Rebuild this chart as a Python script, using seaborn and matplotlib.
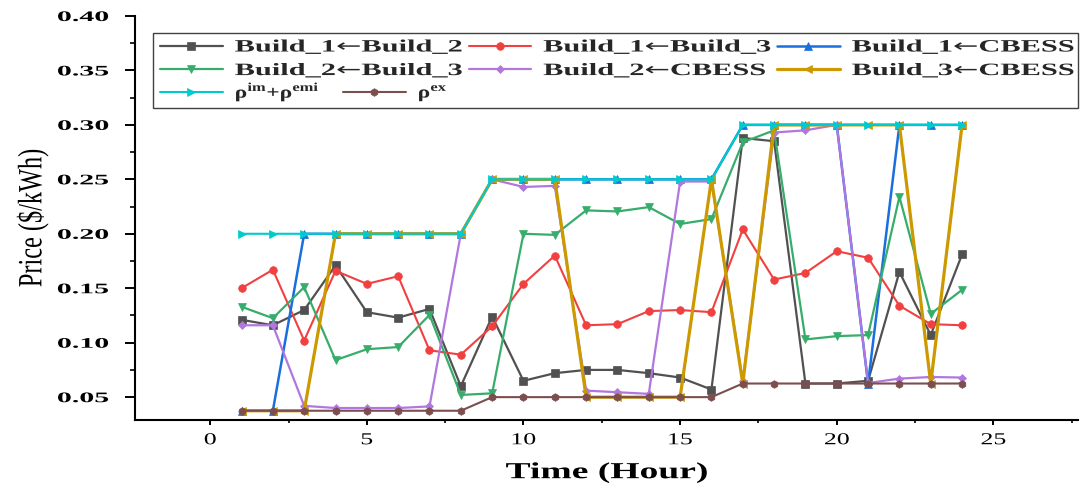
import numpy as np
import pandas as pd
import matplotlib
matplotlib.use("Agg")
import matplotlib.pyplot as plt
import seaborn as sns
from matplotlib.patheffects import AbstractPathEffect
from matplotlib.transforms import Affine2D
from matplotlib.ticker import MultipleLocator, FormatStrFormatter
from matplotlib.font_manager import FontProperties
from matplotlib.patches import Rectangle

# ---------------- data ----------------
hours = [1, 2, 3, 4, 5, 6, 7, 8, 9, 10, 11, 12, 13, 14, 15, 16, 17, 18, 19, 20, 21, 22, 23, 24]

b1_from_b2 = [0.121, 0.116, 0.130, 0.171, 0.128, 0.123, 0.131, 0.060, 0.124, 0.065, 0.072, 0.075,
              0.075, 0.072, 0.068, 0.057, 0.288, 0.285, 0.0625, 0.0625, 0.065, 0.165, 0.107, 0.181]
b1_from_b3 = [0.150, 0.167, 0.102, 0.166, 0.154, 0.161, 0.093, 0.089, 0.115, 0.154, 0.180, 0.116,
              0.117, 0.129, 0.130, 0.128, 0.204, 0.158, 0.164, 0.184, 0.178, 0.134, 0.117, 0.116]
b1_from_cbess = [0.0375, 0.0375, 0.20, 0.20, 0.20, 0.20, 0.20, 0.20, 0.25, 0.25, 0.25, 0.25,
                 0.25, 0.25, 0.25, 0.25, 0.30, 0.30, 0.30, 0.30, 0.0625, 0.30, 0.30, 0.30]
b2_from_b3 = [0.133, 0.1225, 0.151, 0.084, 0.094, 0.096, 0.1255, 0.052, 0.0535, 0.200, 0.199, 0.2215,
              0.2205, 0.2245, 0.209, 0.2135, 0.284, 0.295, 0.103, 0.106, 0.107, 0.234, 0.1265, 0.1485]
b2_from_cbess = [0.116, 0.116, 0.042, 0.040, 0.040, 0.040, 0.0415, 0.20, 0.25, 0.243, 0.244, 0.056,
                 0.0545, 0.053, 0.248, 0.248, 0.065, 0.293, 0.295, 0.30, 0.063, 0.067, 0.0685, 0.068]
b3_from_cbess = [0.0375, 0.0375, 0.0375, 0.20, 0.20, 0.20, 0.20, 0.20, 0.25, 0.25, 0.25, 0.05,
                 0.05, 0.05, 0.05, 0.25, 0.0625, 0.30, 0.30, 0.30, 0.30, 0.30, 0.0625, 0.30]
rho_im_emi = [0.20, 0.20, 0.20, 0.20, 0.20, 0.20, 0.20, 0.20, 0.25, 0.25, 0.25, 0.25,
              0.25, 0.25, 0.25, 0.25, 0.30, 0.30, 0.30, 0.30, 0.30, 0.30, 0.30, 0.30]
rho_ex = [0.0375, 0.0375, 0.0375, 0.0375, 0.0375, 0.0375, 0.0375, 0.0375, 0.05, 0.05, 0.05, 0.05,
          0.05, 0.05, 0.05, 0.05, 0.0625, 0.0625, 0.0625, 0.0625, 0.0625, 0.0625, 0.0625, 0.0625]

ARROW = "$\\mathrm{\u2190}$"
series_labels = ["Build_1" + ARROW + "Build_2", "Build_1" + ARROW + "Build_3",
                 "Build_1" + ARROW + "CBESS", "Build_2" + ARROW + "Build_3",
                 "Build_2" + ARROW + "CBESS", "Build_3" + ARROW + "CBESS",
                 r"ρ$^{\mathdefault{im}}$+ρ$^{\mathdefault{emi}}$",
                 r"ρ$^{\mathdefault{ex}}$"]
series_values = [b1_from_b2, b1_from_b3, b1_from_cbess, b2_from_b3,
                 b2_from_cbess, b3_from_cbess, rho_im_emi, rho_ex]
series_colors = ["#515151", "#F14040", "#1A6FDF", "#37AD6B",
                 "#B177DE", "#CC9900", "#00CBCC", "#7D4E4E"]
series_markers = ["s", "o", "^", "v", "D", "<", ">", "h"]
series_lw = [1.6, 1.5, 1.8, 1.6, 1.6, 2.3, 1.5, 1.5]
series_ms = [5.5, 5.5, 5.5, 5.5, 4.5, 5.5, 5.5, 5.5]

x_ticks = [0, 5, 10, 15, 20, 25]


# ---------------- helper: stretch glyphs (mimics the stretched original) ----------------
class Stretch(AbstractPathEffect):
    def __init__(self, sx=1.0, sy=1.0, anchor="left"):
        super().__init__()
        self.sx, self.sy, self.anchor = sx, sy, anchor

    def draw_path(self, renderer, gc, tpath, affine, rgbFace=None):
        ext = tpath.get_extents()
        if self.anchor == "center":
            cx = 0.5 * (ext.x0 + ext.x1)
        elif self.anchor == "right":
            cx = ext.x1
        else:
            cx = 0.0
        pre = Affine2D().translate(-cx, 0).scale(self.sx, self.sy).translate(cx, 0)
        renderer.draw_path(gc, tpath, pre + affine, rgbFace)


sns.set_theme(style="ticks")
plt.rcParams["font.family"] = ["Liberation Serif", "DejaVu Serif"]
plt.rcParams["mathtext.fontset"] = "custom"
plt.rcParams["mathtext.rm"] = "Liberation Serif"
plt.rcParams["mathtext.it"] = "Liberation Serif:italic"
plt.rcParams["mathtext.bf"] = "Liberation Serif:bold"

fig = plt.figure(figsize=(10.81, 4.86), dpi=100, facecolor="white")
ax = fig.add_axes([0.1249, 0.1358, 0.8723, 0.8313])
ax.set_facecolor("white")

for lab, vals, col, mk, lw, ms in zip(series_labels, series_values, series_colors,
                                      series_markers, series_lw, series_ms):
    df = pd.DataFrame({"Hour": hours, "Price": vals})
    sns.lineplot(data=df, x="Hour", y="Price", ax=ax, color=col, marker=mk,
                 linewidth=lw, markersize=ms, markeredgecolor=col,
                 markeredgewidth=0.5, label=lab)

ax.set_xlim(-2.4, 27.7)
ax.set_ylim(0.029, 0.40)
ax.set_xticks(x_ticks)
ax.xaxis.set_minor_locator(MultipleLocator(2.5))
ax.yaxis.set_major_locator(MultipleLocator(0.05))
ax.yaxis.set_minor_locator(MultipleLocator(0.025))
ax.yaxis.set_major_formatter(FormatStrFormatter("%.2f"))

sns.despine(ax=ax)
for s in ["left", "bottom"]:
    ax.spines[s].set_linewidth(1.5)
    ax.spines[s].set_color("black")

ax.tick_params(axis="y", which="major", direction="out", length=7, width=1.4,
               pad=12, labelsize=10.5, colors="black")
ax.tick_params(axis="y", which="minor", direction="out", length=3.6, width=1.2, colors="black")
ax.tick_params(axis="x", which="major", direction="out", length=3.8, width=1.4,
               pad=5, labelsize=12, colors="black")
ax.tick_params(axis="x", which="minor", direction="out", length=2.5, width=1.2, colors="black")

ax.set_xlabel("Time (Hour)", fontsize=16.5, fontweight="bold", color="black")
ax.xaxis.label.set_va("top")
ax.xaxis.set_label_coords(0.5, -0.104)
ax.set_ylabel(r"Price (\$/kWh)", fontsize=17.5, color="black")
ax.yaxis.set_label_coords(-0.094, 0.5)

# legend frame drawn as a separate box (axes coordinates)
frame = Rectangle((0.0191, 0.772), 0.9809, 0.186, transform=ax.transAxes,
                  facecolor="white", edgecolor="#404040", linewidth=1.0,
                  clip_on=False, zorder=4.5)
ax.add_patch(frame)

handles, labels = ax.get_legend_handles_labels()
leg_prop = FontProperties(family=["Liberation Serif", "DejaVu Serif"], weight="bold", size=12.5)
leg_prop.set_math_fontfamily("dejavusans")
fs_px = 12.5 * 100 / 72

order1 = [0, 3, 1, 4, 2, 5]   # two rows, three columns (column-major fill)
order2 = [6, 7]               # third row, flowing entries


def make_legend(idx, ncol, cs, anchor, loc):
    return ax.legend([handles[i] for i in idx], [labels[i] for i in idx], ncol=ncol,
                     loc=loc, bbox_to_anchor=anchor,
                     borderaxespad=0, borderpad=0, frameon=False,
                     prop=leg_prop, handlelength=3.6, handletextpad=0.7,
                     labelspacing=0.33, columnspacing=cs, numpoints=1)


r = fig.canvas.get_renderer()

# first legend (rows 1-2)
cs1 = 6.0
leg1 = make_legend(order1, 3, cs1, (0.0265, 0.946), "upper left")
fig.canvas.draw()
tx = [t.get_window_extent(r).x0 for t in leg1.get_texts()]
cs1 = cs1 + (0.5 * (310 - (tx[2] - tx[0])) + 0.5 * (307 - (tx[4] - tx[2]))) / fs_px
leg1 = make_legend(order1, 3, cs1, (0.0265, 0.946), "upper left")
ax.add_artist(leg1)

# second legend (row 3)
cs2 = 4.0
leg2 = make_legend(order2, 2, cs2, (0.0265, 0.812), "center left")
fig.canvas.draw()
tx2 = [t.get_window_extent(r).x0 for t in leg2.get_texts()]
cs2 = cs2 + (183 - (tx2[1] - tx2[0])) / fs_px
leg2 = make_legend(order2, 2, cs2, (0.0265, 0.812), "center left")
fig.canvas.draw()

for t in ax.get_yticklabels():
    t.set_fontweight("bold")
    t.set_path_effects([Stretch(2.05, 1.0, "right")])
for t in ax.get_xticklabels():
    t.set_path_effects([Stretch(1.55, 1.0, "center")])
ax.xaxis.label.set_path_effects([Stretch(1.64, 1.0, "center")])
ax.yaxis.label.set_path_effects([Stretch(1.0, 1.4, "left")])
for t in leg1.get_texts():
    t.set_path_effects([Stretch(1.75, 1.0, "left")])
for t in leg2.get_texts():
    t.set_path_effects([Stretch(1.35, 1.0, "left")])

fig.savefig("out.png", dpi=100, facecolor="white")
